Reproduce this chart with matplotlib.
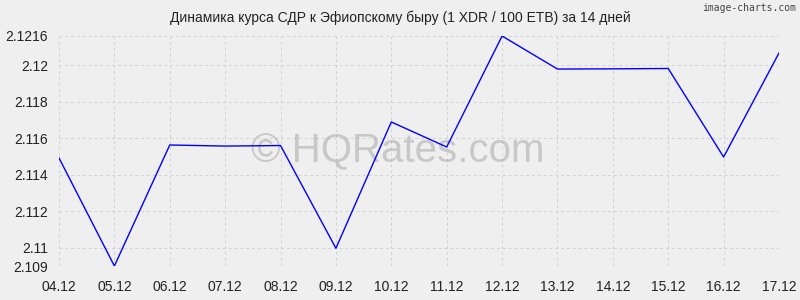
import matplotlib.pyplot as plt

plt.rcParams['font.family'] = ['Liberation Sans', 'DejaVu Sans']

# Rate of XDR vs ETB (1 XDR / 100 ETB)
dates = ['04.12', '05.12', '06.12', '07.12', '08.12', '09.12', '10.12',
         '11.12', '12.12', '13.12', '14.12', '15.12', '16.12', '17.12']
rates = [2.11492, 2.1090, 2.11563, 2.11557, 2.1156, 2.10997, 2.11689,
         2.11552, 2.1216, 2.11979, 2.1198, 2.11982, 2.11497, 2.12067]
yticks = [2.109, 2.11, 2.112, 2.114, 2.116, 2.118, 2.12, 2.1216]
ylabels = ['2.109', '2.11', '2.112', '2.114', '2.116', '2.118', '2.12', '2.1216']

bg = '#efefef'
fig = plt.figure(figsize=(8, 3), dpi=100, facecolor=bg)
ax = fig.add_axes([0.07375, 0.1133, 0.9, 0.7667], facecolor=bg)

x = list(range(len(dates)))
ax.plot(x, rates, color='#0000ff', lw=1, zorder=3)

ax.set_xlim(0, len(dates) - 1)
ax.set_ylim(2.109, 2.1216)
ax.set_xticks(x)
ax.set_xticklabels(dates)
ax.set_yticks(yticks)
ax.set_yticklabels(ylabels)
ax.tick_params(length=0, labelsize=10, colors='#222222')
ax.tick_params(axis='x', pad=10)
ax.tick_params(axis='y', pad=8)
ax.grid(True, color='#d2d2d2', linestyle=(0, (3, 3)), lw=0.7)
for s in ax.spines.values():
    s.set_visible(False)

ax.text(0.47, 0.5, '© HQRates.com', transform=ax.transAxes, fontsize=29,
        color='#999999', alpha=0.45, ha='center', va='center', zorder=2)

fig.text(0.5, 0.94, 'Динамика курса СДР к Эфиопскому быру (1 XDR / 100 ETB) за 14 дней',
         ha='center', va='center', fontsize=10, color='#222222')
fig.text(0.995, 0.99, 'image-charts.com', ha='right', va='top', fontsize=7,
         color='#444444', family='DejaVu Sans Mono')

fig.savefig('out.png', dpi=100, facecolor=bg)
